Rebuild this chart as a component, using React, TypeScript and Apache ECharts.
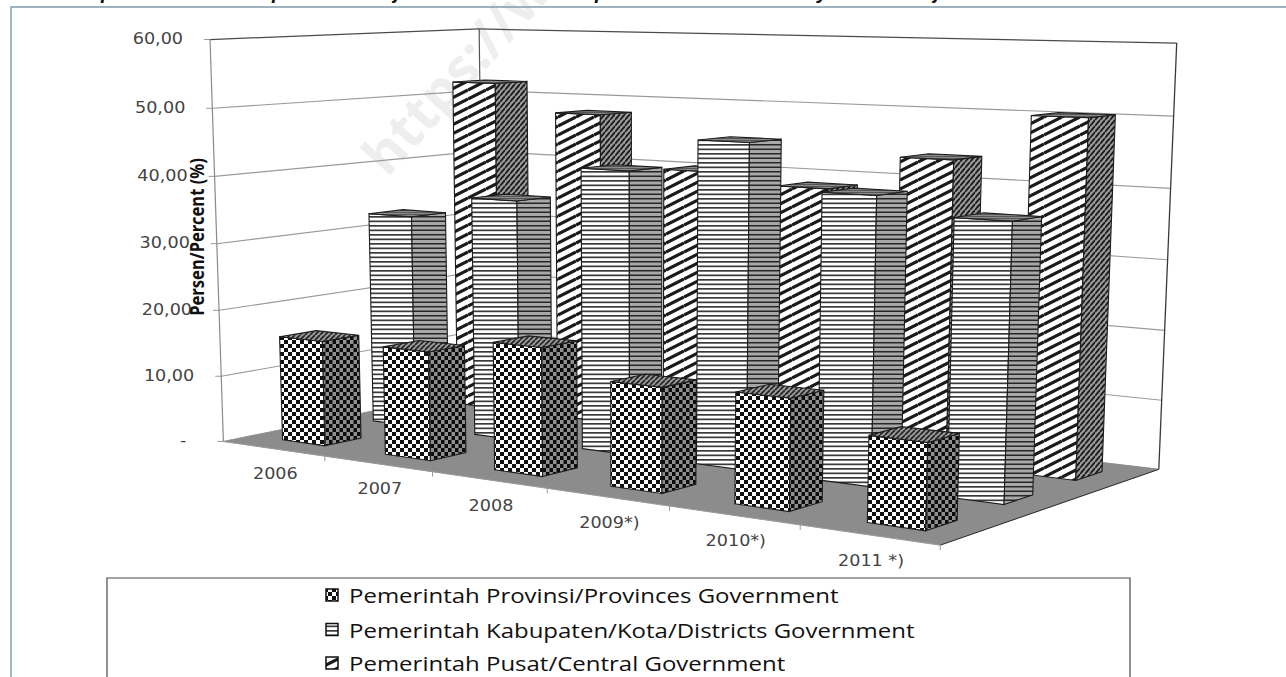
import React, { useEffect, useRef } from "react";
import * as echarts from "echarts";

// Shares of spending by level of government, one row of columns per level.
const years = ["2006", "2007", "2008", "2009*)", "2010*)", "2011 *)"];
const valueTicks = [0, 10, 20, 30, 40, 50, 60];
const valueLabels = ["-", "10,00", "20,00", "30,00", "40,00", "50,00", "60,00"];
const provinsi = [15.8, 16.0, 18.4, 14.7, 15.2, 11.5];
const kabupaten = [32.7, 36.2, 41.6, 46.5, 40.2, 37.9];
const pusat = [52.1, 47.9, 40.1, 38.6, 43.7, 50.3];
const seriesNames = [
  "Pemerintah Provinsi/Provinces Government",
  "Pemerintah Kabupaten/Kota/Districts Government",
  "Pemerintah Pusat/Central Government",
];
const headingTails = [
  ["p", 101],
  ["p", 272],
  ["j", 394],
  ["p", 595],
  ["y", 817],
  ["j", 934],
];

type Vec = [number, number];

// Camera calibration: [along years, height, depth, screen x, screen y].
const cameraAnchors: number[][] = [
  [0, 0, 0, 226, 441], [1, 0, 0, 943, 545], [1, 0, 1, 1160, 466], [0, 0, 1, 482, 390],
  [0, 1, 0, 208, 40], [1, 1, 1, 1177, 45], [0, 1, 1, 480, 27.5],
  [0, 5 / 6, 0, 211.5, 108], [0, 4 / 6, 0, 214.5, 176], [0, 3 / 6, 0, 218, 244],
  [0, 2 / 6, 0, 220.5, 310], [0, 1 / 6, 0, 223.5, 376],
  [1, 5 / 6, 1, 1173, 117], [1, 4 / 6, 1, 1170, 189], [1, 3 / 6, 1, 1167, 260],
  [1, 2 / 6, 1, 1165, 330], [1, 1 / 6, 1, 1162, 400],
  [0, 5 / 6, 1, 481, 88.6], [0, 4 / 6, 1, 481, 150], [0, 3 / 6, 1, 481.5, 212.5],
  [0, 2 / 6, 1, 482, 272], [0, 1 / 6, 1, 482, 331],
  [1 / 6, 0, 0, 323, 456], [2 / 6, 0, 0, 430, 472], [3 / 6, 0, 0, 545, 489],
  [4 / 6, 0, 0, 669, 506], [5 / 6, 0, 0, 800, 525],
];

// Least-squares fit of a projective camera through the anchors.
function solveCamera(anchors: number[][]): number[] {
  const n = 11;
  const m = Array.from({ length: n }, () => new Array(n + 1).fill(0));
  const add = (row: number[], rhs: number) => {
    for (let i = 0; i < n; i++) {
      for (let j = 0; j < n; j++) m[i][j] += row[i] * row[j];
      m[i][n] += row[i] * rhs;
    }
  };
  for (const [u, h, v, x, y] of anchors) {
    add([u, h, v, 1, 0, 0, 0, 0, -x * u, -x * h, -x * v], x);
    add([0, 0, 0, 0, u, h, v, 1, -y * u, -y * h, -y * v], y);
  }
  for (let c = 0; c < n; c++) {
    let p = c;
    for (let r = c + 1; r < n; r++) if (Math.abs(m[r][c]) > Math.abs(m[p][c])) p = r;
    [m[c], m[p]] = [m[p], m[c]];
    for (let r = 0; r < n; r++) {
      if (r === c) continue;
      const f = m[r][c] / m[c][c];
      for (let k = c; k <= n; k++) m[r][k] -= f * m[c][k];
    }
  }
  return m.map((row, i) => row[n] / row[i]);
}

const cam = solveCamera(cameraAnchors);
const project = (u: number, h: number, v: number): Vec => {
  const w = cam[8] * u + cam[9] * h + cam[10] * v + 1;
  return [
    (cam[0] * u + cam[1] * h + cam[2] * v + cam[3]) / w,
    (cam[4] * u + cam[5] * h + cam[6] * v + cam[7]) / w,
  ];
};

// Repeating hatch tiles for the column faces.
function tile(w: number, h: number, draw: (c: CanvasRenderingContext2D) => void) {
  const canvas = document.createElement("canvas");
  canvas.width = w;
  canvas.height = h;
  draw(canvas.getContext("2d") as CanvasRenderingContext2D);
  return { image: canvas.toDataURL(), repeat: "repeat", imageWidth: w, imageHeight: h };
}
const checker = (w: number, h: number, bg: string, fg: string) =>
  tile(w, h, (c) => {
    c.fillStyle = bg;
    c.fillRect(0, 0, w, h);
    c.fillStyle = fg;
    c.fillRect(0, 0, w / 2, h / 2);
    c.fillRect(w / 2, h / 2, w / 2, h / 2);
  });
const rules = (h: number, bg: string, fg: string, weight: number) =>
  tile(4, h, (c) => {
    c.fillStyle = bg;
    c.fillRect(0, 0, 4, h);
    c.fillStyle = fg;
    c.fillRect(0, 0, 4, weight);
    c.fillRect(0, h / 2, 4, weight);
  });
const slants = (w: number, h: number, bg: string, fg: string, lw: number) =>
  tile(w, h, (c) => {
    c.fillStyle = bg;
    c.fillRect(0, 0, w, h);
    c.strokeStyle = fg;
    c.lineWidth = lw;
    for (let k = -2; k <= 2; k++) {
      c.beginPath();
      c.moveTo(0, h + k * h);
      c.lineTo(w, k * h);
      c.stroke();
    }
  });

function makeFills() {
  return [
    {
      front: checker(8, 8, "#ffffff", "#111111"),
      side: checker(7, 8, "#8f8f8f", "#0c0c0c"),
      top: slants(5, 5, "#999999", "#222222", 1.6),
    },
    {
      front: rules(9, "#ffffff", "#3a3a3a", 1.7),
      side: rules(9, "#a8a8a8", "#262626", 1.5),
      top: rules(4, "#8a8a8a", "#4a4a4a", 0.8),
    },
    {
      front: slants(18, 9, "#ffffff", "#1a1a1a", 3.2),
      side: slants(5, 6, "#9a9a9a", "#1c1c1c", 1.8),
      top: rules(4, "#8a8a8a", "#4a4a4a", 0.8),
    },
  ];
}

const WIDTH_SHARE = 0.42;
const DEPTH_SHARE = 0.39;
const YEAR_NUDGE = 0.002;
const edge = "#1c1c1c";

function poly(points: Vec[], fill: any, stroke = edge, lineWidth = 1.1) {
  return { type: "polygon", shape: { points }, style: { fill, stroke, lineWidth } };
}

function columnRenderer(row: number, fills: any) {
  return (params: any, api: any) => {
    const sys = params.coordSys;
    const [px, py] = api.coord([api.value(0), api.value(1)]);
    const u = (px - sys.x) / sys.width + YEAR_NUDGE;
    const h = 1 - (py - sys.y) / sys.height;
    const du = (api.size([1, 0])[0] / sys.width) * (WIDTH_SHARE / 2);
    const v = (row + 0.5) / 3;
    const dv = (1 / 3) * (DEPTH_SHARE / 2);
    const [x0, x1, z0, z1] = [u - du, u + du, v - dv, v + dv];
    return {
      type: "group",
      children: [
        poly([project(x0, 0, z0), project(x1, 0, z0), project(x1, h, z0), project(x0, h, z0)], fills.front),
        poly([project(x1, 0, z0), project(x1, 0, z1), project(x1, h, z1), project(x1, h, z0)], fills.side),
        poly([project(x0, h, z0), project(x1, h, z0), project(x1, h, z1), project(x0, h, z1)], fills.top),
      ],
    };
  };
}

function line(a: Vec, b: Vec, stroke: string, lineWidth: number) {
  return {
    type: "line",
    shape: { x1: a[0], y1: a[1], x2: b[0], y2: b[1] },
    style: { stroke, lineWidth },
  };
}

function label(text: string, x: number, y: number, align: string) {
  return {
    type: "text",
    x,
    y,
    scaleX: 1.1,
    style: {
      text,
      fill: "#444444",
      font: '16px "DejaVu Sans"',
      align,
      verticalAlign: "middle",
      textAlign: align,
      textVerticalAlign: "middle",
    },
  };
}

// One gridline per value tick, running along both walls, with its label.
function wallRenderer(params: any, api: any) {
  const sys = params.coordSys;
  const value = api.value(1);
  const h = 1 - (api.coord([0, value])[1] - sys.y) / sys.height;
  const left = project(0, h, 0);
  const corner = project(0, h, 1);
  const right = project(1, h, 1);
  const isTop = value === 60;
  const colour = isTop ? "#4a4a4a" : "#9a9a9a";
  const text = valueLabels[params.dataIndex];
  const labelX = left[0] - (value === 0 ? 37 : 27);
  return {
    type: "group",
    children: [
      line([left[0] - 6, left[1]], left, "#9a9a9a", 1),
      line(left, corner, colour, isTop ? 1.3 : 1.1),
      line(corner, right, colour, isTop ? 1.3 : 1.1),
      label(text, labelX, left[1] - 1, "right"),
    ],
  };
}

// Floor plate and upright wall edges, drawn once.
function shellRenderer() {
  return {
    type: "group",
    children: [
      line(project(0, 0, 0), project(0, 1, 0), "#8a8a8a", 1.2),
      line(project(0, 0, 1), project(0, 1, 1), "#555555", 1.2),
      line(project(1, 0, 1), project(1, 1, 1), "#3a3a3a", 1.3),
      poly(
        [project(0, 0, 0), project(1, 0, 0), project(1, 0, 1), project(0, 0, 1)],
        "#8c8c8c",
        "#8c8c8c",
        0.5,
      ),
      line(project(1, 0, 0), project(1, 0, 1), "#2c2c2c", 1),
      line(project(0, 0, 0), project(1, 0, 0), "#9a9a9a", 1),
    ],
  };
}

// Year captions and the tick marks along the front floor edge.
function yearRenderer(params: any, api: any) {
  const sys = params.coordSys;
  const i = api.value(0);
  const u = (api.coord([i, 0])[0] - sys.x) / sys.width;
  const du = api.size([1, 0])[0] / sys.width / 2;
  const base = project(u, 0, 0);
  const tickEnd = project(u + du, 0, 0);
  return {
    type: "group",
    children: [
      line(tickEnd, [tickEnd[0], tickEnd[1] + 5], "#9a9a9a", 1),
      label(years[i], base[0] + 2, base[1] + 25, "center"),
    ],
  };
}

function plainText(text: string, x: number, y: number, font: string, fill: string, extra: any = {}) {
  return {
    type: "text",
    x,
    y,
    z: 20,
    style: {
      text,
      fill,
      font,
      align: "left",
      verticalAlign: "middle",
      textAlign: "left",
      textVerticalAlign: "middle",
    },
    ...extra,
  };
}

export default function App() {
  const ref = useRef<HTMLDivElement>(null);
  useEffect(() => {
    document.body.style.margin = "0";
    const chart = echarts.init(ref.current as HTMLDivElement, undefined, { renderer: "svg" });
    const fills = makeFills();
    const rows = [provinsi, kabupaten, pusat];

    const legendY = [595, 629.5, 663];
    const legendItems: any[] = [];
    seriesNames.forEach((name, i) => {
      legendItems.push({
        type: "rect",
        z: 20,
        shape: { x: 326, y: legendY[i] - 6, width: 12, height: 12 },
        style: { fill: fills[i].front, stroke: "#111111", lineWidth: 1.5 },
      });
      legendItems.push(plainText(name, 349, legendY[i], '20px "Open Sans"', "#111111", { scaleX: 1.2 }));
    });

    chart.setOption({
      animation: false,
      backgroundColor: "#ffffff",
      // The reference plane that the camera maps onto the floor and walls.
      grid: { left: 0, top: 0, width: 600, height: 600, show: false },
      xAxis: { type: "category", data: years, show: false },
      yAxis: { type: "value", min: 0, max: 60, interval: 10, show: false },
      graphic: [
        {
          type: "text",
          x: 392,
          y: 182,
          z: 0,
          rotation: (48 * Math.PI) / 180,
          style: {
            text: "https://w",
            fill: "#eeeeee",
            font: 'bold 54px "Noto Sans"',
            align: "left",
            verticalAlign: "bottom",
            textAlign: "left",
            textVerticalAlign: "bottom",
          },
        },
        {
          type: "polyline",
          z: 20,
          shape: { points: [[11, 677], [11, 7], [1286, 7]] },
          style: { stroke: "#7f9ba8", lineWidth: 1.4, fill: "none" },
        },
        ...headingTails.map(([t, x]) => ({
          type: "text",
          x: x as number,
          y: 2,
          z: 20,
          style: {
            text: t as string,
            fill: "#111111",
            font: 'italic bold 20px "Liberation Sans"',
            align: "left",
            verticalAlign: "bottom",
            textAlign: "left",
            textVerticalAlign: "bottom",
          },
        })),
        {
          type: "text",
          x: 196,
          y: 237,
          z: 20,
          rotation: Math.PI / 2,
          scaleX: 0.83,
          style: {
            text: "Persen/Percent (%)",
            fill: "#111111",
            font: 'bold 20px "Noto Sans"',
            align: "center",
            verticalAlign: "middle",
            textAlign: "center",
            textVerticalAlign: "middle",
          },
        },
        {
          type: "rect",
          z: 19,
          shape: { x: 107, y: 578, width: 1023, height: 140 },
          style: { fill: "#ffffff", stroke: "#4a4a4a", lineWidth: 1.2 },
        },
        ...legendItems,
      ],
      series: [
        {
          type: "custom",
          name: "walls",
          z: 2,
          silent: true,
          coordinateSystem: "cartesian2d",
          data: valueTicks.map((v) => [0, v]),
          encode: { x: 0, y: 1 },
          renderItem: wallRenderer,
        },
        {
          type: "custom",
          name: "floor",
          z: 3,
          silent: true,
          coordinateSystem: "cartesian2d",
          data: [[0, 0]],
          encode: { x: 0, y: 1 },
          renderItem: shellRenderer,
        },
        {
          type: "custom",
          name: "years",
          z: 3,
          silent: true,
          coordinateSystem: "cartesian2d",
          data: years.map((_, i) => [i, 0]),
          encode: { x: 0, y: 1 },
          renderItem: yearRenderer,
        },
        ...[2, 1, 0].map((row, order) => ({
          type: "custom",
          name: seriesNames[row],
          z: 4 + order,
          silent: true,
          coordinateSystem: "cartesian2d",
          data: rows[row].map((v, i) => [i, v]),
          encode: { x: 0, y: 1 },
          renderItem: columnRenderer(row, fills[row]),
        })),
      ],
    });
    return () => chart.dispose();
  }, []);
  return <div ref={ref} style={{ width: 1286, height: 677, position: "absolute", left: 0, top: 0 }} />;
}
